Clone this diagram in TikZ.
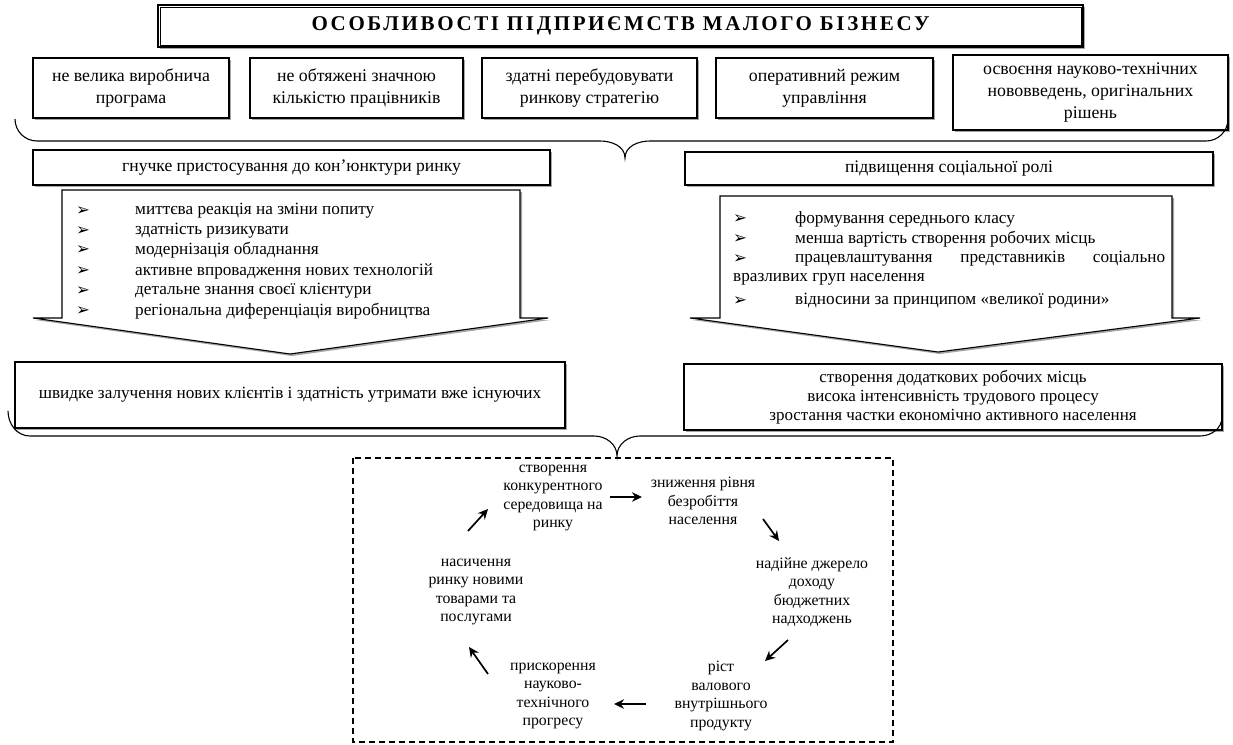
\documentclass[tikz,border=0pt]{standalone}
\usepackage{fontspec}
\setmainfont{Liberation Serif}
\newfontfamily\sym{DejaVu Sans}
\newfontfamily\titlefont[LetterSpace=12.5]{Liberation Serif}
\usetikzlibrary{arrows.meta,shadows}
\newcommand{\bl}{{\sym\fontsize{16.5}{16}\selectfont ➢}}
\begin{document}
\begin{tikzpicture}[x=1pt,y=-1pt,
  shd/.style={drop shadow={shadow xshift=2pt,shadow yshift=-2pt,fill=black!35,opacity=1}},
  box/.style={draw, line width=1.1pt, fill=white, inner sep=0pt, align=center, shd},
  topfont/.style={font=\fontsize{17.8}{22}\selectfont},
  headfont/.style={font=\fontsize{17.6}{20}\selectfont},
  listfont/.style={font=\fontsize{17.2}{20}\selectfont},
  cyc/.style={align=center, inner sep=0pt, font=\fontsize{15.8}{18.4}\selectfont},
  brace/.style={line width=1.1pt},
  callout/.style={draw, line width=1.1pt, fill=white, shd},
  arr/.style={line width=1.7pt, -{Stealth[length=10pt,width=9.5pt]}},
  litem/.style={anchor=west, inner sep=0pt, listfont}
]
\useasboundingbox (0,0) rectangle (1233,744);
\fill[white] (0,0) rectangle (1233,744);

% title
\node[box, line width=1.6pt, minimum width=925pt, minimum height=42pt] (title) at (620.5,26)
  {\titlefont\bfseries\fontsize{21}{24}\selectfont ОСОБЛИВОСТІ ПІДПРИЄМСТВ МАЛОГО БІЗНЕСУ};
\draw[line width=0.6pt] ([shift={(3,3)}]title.north west) rectangle ([shift={(-3,-3)}]title.south east);

% top boxes
\node[box, topfont, minimum width=196pt, minimum height=60pt] (t1) at (131,88) {не велика виробнича\\програма};
\node[box, topfont, minimum width=213pt, minimum height=60pt] (t2) at (356.5,88) {не обтяжені значною\\кількістю працівників};
\node[box, topfont, minimum width=215pt, minimum height=60pt] (t3) at (589.5,88) {здатні перебудовувати\\ринкову стратегію};
\node[box, topfont, minimum width=217pt, minimum height=60pt] (t4) at (824.5,88) {оперативний режим\\управління};
\node[box, topfont, minimum width=275pt, minimum height=75pt] (t5) at (1090.5,92.5) {освоєння науково-технічних\\нововведень, оригінальних\\рішень};

% brace 1
\draw[brace] (15,119) to[out=-90,in=180] (37,141) -- (600,141) to[out=0,in=90] (625,158)
  to[out=90,in=180] (650,141) -- (1206,141) to[out=0,in=-90] (1228,119);

% headers
\node[box, headfont, minimum width=517pt, minimum height=35pt] (lh) at (291.5,167.5) {гнучке пристосування до кон’юнктури ринку};
\node[box, headfont, minimum width=528pt, minimum height=33pt] (rh) at (949,168.5) {підвищення соціальної ролі};

% left callout
\draw[callout] (62,190) -- (520,190) -- (520,318) -- (548,318) -- (290,354) -- (33,318) -- (62,318) -- cycle;
\foreach \y/\t [count=\i] in {211/миттєва реакція на зміни попиту, 231/здатність ризикувати, 250/модернізація обладнання,
  271/активне впровадження нових технологій, 291/детальне знання своєї клієнтури, 311/регіональна диференціація виробництва}{
  \node[litem] (lb\i) at (76,\y) {\bl};
  \node[litem] (lt\i) at (135,\y) {\t};
}

% right callout
\draw[callout] (720,196) -- (1172,196) -- (1172,318) -- (1200,318) -- (938,352) -- (690,318) -- (720,318) -- cycle;
\node[litem] (rb1) at (733,219) {\bl};
\node[litem] (rt1) at (795,219) {формування середнього класу};
\node[litem] (rb2) at (733,239) {\bl};
\node[litem] (rt2) at (795,239) {менша вартість створення робочих місць};
\node[litem] (rb3) at (733,259) {\bl};
\node[litem] (rt3) at (795,259) {\makebox[370pt][s]{працевлаштування\hfill представників\hfill соціально}};
\node[litem] (rt3b) at (733,279) {вразливих груп населення};
\node[litem] (rb4) at (733,301) {\bl};
\node[litem] (rt4) at (795,301) {відносини за принципом «великої родини»};

% bottom boxes
\node[box, listfont, minimum width=550pt, minimum height=66pt] (bl) at (290,395) {швидке залучення нових клієнтів і здатність утримати вже існуючих};
\node[box, minimum width=538pt, minimum height=66pt, font=\fontsize{17}{19.2}\selectfont] (br) at (953,397)
  {створення додаткових робочих місць\\висока інтенсивність трудового процесу\\зростання частки економічно активного населення};

% brace 2
\draw[brace] (8,411) to[out=-90,in=180] (30,436) -- (594,436) to[out=0,in=90] (617,456)
  to[out=90,in=180] (640,436) -- (1200,436) to[out=0,in=-90] (1222,417);

% dashed frame
\draw[line width=1.1pt, dashed, dash pattern=on 6pt off 4pt] (353,458) rectangle (893,742);

% cycle
\node[cyc] (c1) at (553,498) {створення\\конкурентного\\середовища на\\ринку};
\node[cyc] (c2) at (703,501) {зниження рівня\\безробіття\\населення};
\node[cyc] (c3) at (812,592) {надійне джерело\\доходу\\бюджетних\\надходжень};
\node[cyc] (c4) at (721,696) {ріст\\валового\\внутрішнього\\продукту};
\node[cyc] (c5) at (553,696) {прискорення\\науково-\\технічного\\прогресу};
\node[cyc] (c6) at (476,592) {насичення\\ринку новими\\товарами та\\послугами};

\coordinate (a1s) at (610,497); \coordinate (a1e) at (642,497);
\coordinate (a2s) at (763,519); \coordinate (a2e) at (779,541);
\coordinate (a3s) at (788,640); \coordinate (a3e) at (765,661);
\coordinate (a4s) at (646,704); \coordinate (a4e) at (614,704);
\coordinate (a5s) at (488,674); \coordinate (a5e) at (469,647);
\coordinate (a6s) at (468,531); \coordinate (a6e) at (488,509);
\draw[arr] (a1s) -- (a1e);
\draw[arr] (a2s) -- (a2e);
\draw[arr] (a3s) -- (a3e);
\draw[arr] (a4s) -- (a4e);
\draw[arr] (a5s) -- (a5e);
\draw[arr] (a6s) -- (a6e);
\end{tikzpicture}
\end{document}
